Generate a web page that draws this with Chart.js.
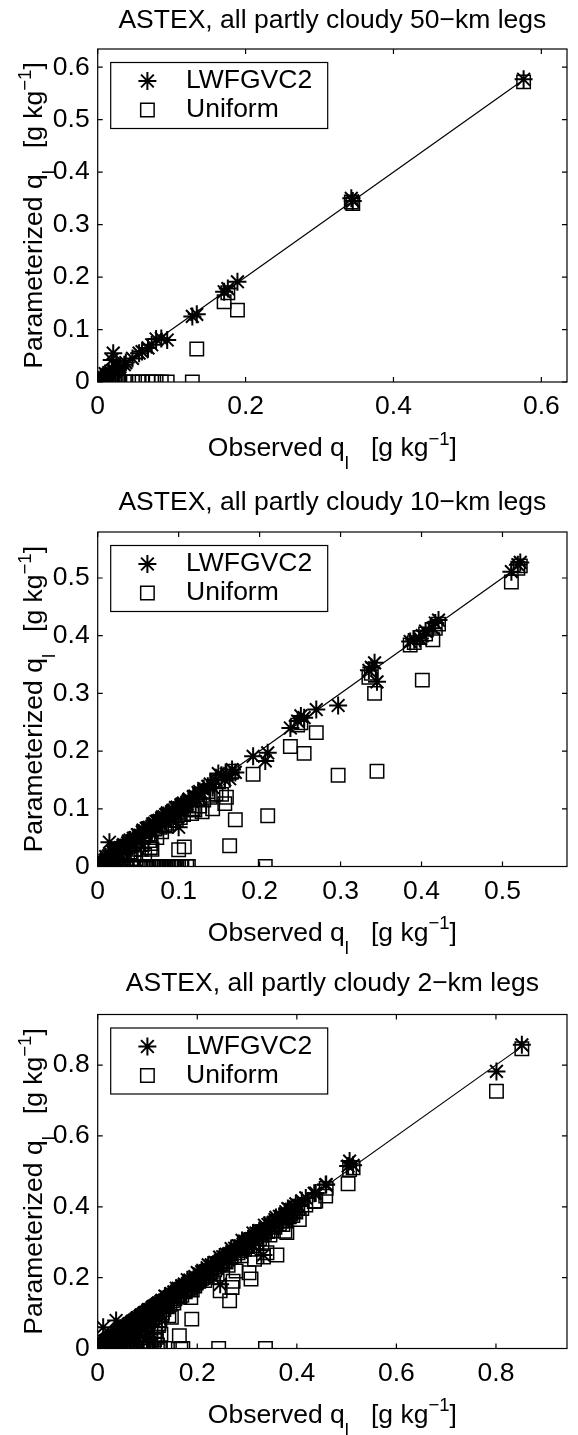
<!DOCTYPE html>
<html>
<head>
<meta charset="utf-8">
<title>ASTEX partly cloudy legs</title>
<script src="https://cdn.jsdelivr.net/npm/chart.js"></script>
<style>
    html, body { margin: 0; padding: 0; background: #fff; }
    canvas { display: block; }
</style>
</head>
<body>
<canvas id="chart50" width="578" height="480"></canvas>
<canvas id="chart10" width="578" height="480"></canvas>
<canvas id="chart2" width="578" height="475"></canvas>
<script>
    // series names and axis texts
    const seriesNames = ['LWFGVC2', 'Uniform'];
    const panelTitles = [
        'ASTEX, all partly cloudy 50\u2212km legs',
        'ASTEX, all partly cloudy 10\u2212km legs',
        'ASTEX, all partly cloudy 2\u2212km legs'
    ];
    // [text, 'sub' | 'sup' | '']
    const xTitleParts = [['Observed q', ''], ['l', 'sub'], ['   [g kg', ''], ['\u22121', 'sup'], [']', '']];
    const yTitleParts = [['Parameterized q', ''], ['l', 'sub'], ['   [g kg', ''], ['\u22121', 'sup'], [']', '']];

    // tick values
    const xTicks50 = [0, 0.2, 0.4, 0.6];
    const yTicks50 = [0, 0.1, 0.2, 0.3, 0.4, 0.5, 0.6];
    const ticks10 = [0, 0.1, 0.2, 0.3, 0.4, 0.5];
    const ticks2 = [0, 0.2, 0.4, 0.6, 0.8];

    // 50-km legs: observed ql, LWFGVC2 and uniform parameterized ql [g/kg]
    const obs50 = [0.576, 0.343, 0.345, 0.189, 0.176, 0.171, 0.134, 0.128, 0.094, 0.086,
        0.079, 0.073, 0.068, 0.060, 0.056, 0.047, 0.038, 0.036, 0.029, 0.021,
        0.019, 0.025, 0.027, 0.015, 0.012, 0.010, 0.008, 0.006, 0.005, 0.004,
        0.003, 0.002, 0.030, 0.023, 0.017, 0.013];
    const lwf50 = [0.577, 0.350, 0.345, 0.191, 0.178, 0.172, 0.129, 0.125, 0.080, 0.083,
        0.082, 0.071, 0.065, 0.058, 0.055, 0.045, 0.037, 0.033, 0.026, 0.055,
        0.042, 0.030, 0.024, 0.018, 0.012, 0.016, 0.009, 0.010, 0.004, 0.006,
        0.002, 0.003, 0.029, 0.020, 0.014, 0.011];
    const uni50 = [0.572, 0.343, 0.340, 0.137, 0.170, 0.153, 0.063, 0, 0, 0,
        0, 0, 0, 0, 0, 0, 0, 0, 0, 0,
        0, 0, 0.008, 0, 0.004, 0, 0, 0.002, 0, 0,
        0, 0, 0, 0.006, 0, 0];

    // 10-km legs
    const obs10 = [0.522, 0.519, 0.511, 0.421, 0.417, 0.414, 0.405, 0.401, 0.398, 0.391,
        0.386, 0.342, 0.338, 0.335, 0.345, 0.297, 0.270, 0.255, 0.251, 0.247,
        0.238, 0.210, 0.207, 0.192, 0.170, 0.166, 0.163, 0.159, 0.157, 0.153,
        0.149, 0.142, 0.136, 0.129, 0.124, 0.120, 0.116, 0.113, 0.110, 0.107,
        0.100, 0.091, 0.100,
        0.112, 0.108, 0.104, 0.101, 0.098, 0.095, 0.092, 0.089, 0.086, 0.083,
        0.080, 0.077, 0.074, 0.071, 0.068, 0.065, 0.062, 0.059, 0.056, 0.053,
        0.050, 0.047, 0.044, 0.041, 0.038, 0.035, 0.032, 0.029, 0.026, 0.023,
        0.020, 0.017, 0.0145, 0.012, 0.009, 0.006, 0.003, 0.001,
        0.005, 0.010, 0.015, 0.019, 0.024, 0.028, 0.033, 0.037, 0.043, 0.046,
        0.052, 0.055, 0.058, 0.061, 0.064, 0.067, 0.070, 0.073, 0.076, 0.079,
        0.082, 0.085, 0.088, 0.094, 0.097, 0.103, 0.106, 0.118, 0.126, 0.131,
        0.139, 0.146,
        0.004, 0.008, 0.013, 0.018, 0.022, 0.027, 0.031, 0.036, 0.040, 0.045,
        0.049, 0.054, 0.060, 0.066, 0.072, 0.078, 0.084, 0.090, 0.096, 0.102];
    const lwf10 = [0.527, 0.523, 0.511, 0.427, 0.422, 0.413, 0.408, 0.400, 0.395, 0.393,
        0.390, 0.353, 0.345, 0.340, 0.320, 0.279, 0.272, 0.258, 0.261, 0.252,
        0.240, 0.197, 0.183, 0.191, 0.163, 0.168, 0.152, 0.160, 0.150, 0.158,
        0.161, 0.137, 0.139, 0.127, 0.128, 0.122, 0.113, 0.117, 0.108, 0.105,
        0.096, 0.083, 0.068,
        0.115, 0.104, 0.108, 0.097, 0.103, 0.091, 0.096, 0.085, 0.093, 0.080,
        0.086, 0.074, 0.079, 0.069, 0.074, 0.063, 0.067, 0.057, 0.063, 0.051,
        0.055, 0.045, 0.049, 0.040, 0.044, 0.034, 0.038, 0.028, 0.031, 0.022,
        0.026, 0.016, 0.042, 0.013, 0.011, 0.007, 0.004, 0.001,
        0.009, 0.017, 0.020, 0.025, 0.028, 0.033, 0.036, 0.041, 0.045, 0.050,
        0.054, 0.060, 0.062, 0.066, 0.068, 0.062, 0.075, 0.078, 0.080, 0.084,
        0.086, 0.090, 0.092, 0.098, 0.100, 0.107, 0.110, 0.121, 0.130, 0.135,
        0.143, 0.150,
        0.011, 0.004, 0.018, 0.014, 0.028, 0.022, 0.036, 0.031, 0.046, 0.040,
        0.055, 0.049, 0.066, 0.060, 0.078, 0.073, 0.090, 0.085, 0.102, 0.097];
    const uni10 = [0.521, 0.517, 0.493, 0.420, 0.413, 0.393, 0.403, 0.323, 0.397, 0.388,
        0.384, 0.300, 0.335, 0.328, 0.165, 0.158, 0.232, 0.196, 0.249, 0.245,
        0.208, 0.088, 0.000, 0.160, 0.081, 0.165, 0.036, 0.120, 0.109, 0.125,
        0.147, 0.100, 0.130, 0.095, 0.118, 0.098, 0.092, 0.106, 0.000, 0.034,
        0.029, 0.000, 0.000,
        0.000, 0.105, 0.000, 0.094, 0.000, 0.088, 0.000, 0.080, 0.000, 0.072,
        0.000, 0.068, 0.000, 0.065, 0.000, 0.033, 0.055, 0.000, 0.050, 0.000,
        0.045, 0.014, 0.040, 0.000, 0.035, 0.000, 0.028, 0.012, 0.000, 0.018,
        0.000, 0.012, 0.006, 0.000, 0.005, 0.000, 0.002, 0.000,
        0.002, 0.006, 0.000, 0.010, 0.015, 0.000, 0.020, 0.025, 0.000, 0.030,
        0.000, 0.038, 0.020, 0.000, 0.045, 0.030, 0.000, 0.050, 0.000, 0.060,
        0.000, 0.070, 0.075, 0.000, 0.080, 0.000, 0.090, 0.100, 0.105, 0.115,
        0.120, 0.126,
        0.001, 0.005, 0.003, 0.012, 0.008, 0.020, 0.015, 0.000, 0.025, 0.020,
        0.000, 0.030, 0.000, 0.040, 0.000, 0.000, 0.000, 0.000, 0.000, 0.085];

    // 2-km legs
    const obs2 = [0.852, 0.801, 0.506, 0.513, 0.503, 0.459, 0.458, 0.438, 0.435, 0.405,
        0.402, 0.395, 0.388, 0.380, 0.376, 0.370, 0.360, 0.352, 0.340, 0.333,
        0.336, 0.328, 0.320, 0.315, 0.308, 0.304, 0.300, 0.292, 0.285, 0.278,
        0.272, 0.270, 0.265, 0.262, 0.255, 0.248, 0.246, 0.243, 0.238, 0.230,
        0.225, 0.218, 0.212, 0.205, 0.198, 0.192, 0.187, 0.189, 0.182, 0.176,
        0.171, 0.167, 0.164, 0.160, 0.155, 0.150, 0.148, 0.145, 0.143, 0.140,
        0.135, 0.133, 0.130, 0.337,
        0.135, 0.158, 0.180, 0.200, 0.222, 0.245, 0.268, 0.290, 0.312, 0.335,
        0.358, 0.382, 0.398,
        0.140, 0.165, 0.190, 0.215, 0.240, 0.262, 0.288, 0.310, 0.330, 0.350,
        0.372, 0.392,
        0.138, 0.147, 0.153, 0.162, 0.169, 0.174, 0.185, 0.195, 0.203, 0.209,
        0.220, 0.228, 0.235, 0.251, 0.258, 0.275, 0.282, 0.295, 0.302, 0.318,
        0.325, 0.342, 0.346, 0.356, 0.365, 0.378, 0.385, 0.410, 0.418,
        0.128, 0.124, 0.121, 0.118, 0.115, 0.113, 0.110, 0.107, 0.104, 0.101,
        0.098, 0.095, 0.092, 0.089, 0.086, 0.083, 0.080, 0.077, 0.074, 0.071,
        0.068, 0.065, 0.062, 0.059, 0.056, 0.053, 0.050, 0.047, 0.044, 0.041,
        0.038, 0.037, 0.035, 0.032, 0.029, 0.026, 0.023, 0.020, 0.017, 0.014,
        0.011, 0.008, 0.005, 0.003, 0.001,
        0.126, 0.119, 0.112, 0.105, 0.097, 0.090, 0.084, 0.078, 0.072, 0.066,
        0.060, 0.054, 0.048, 0.042, 0.036, 0.030, 0.024, 0.018, 0.012, 0.006,
        0.125, 0.122, 0.116, 0.111, 0.106, 0.102, 0.099, 0.094, 0.091, 0.087,
        0.082, 0.079, 0.075, 0.070, 0.067, 0.063, 0.058, 0.055, 0.051, 0.046,
        0.043, 0.039, 0.034, 0.031, 0.027, 0.022, 0.019, 0.015, 0.010, 0.004,
        0.129, 0.127, 0.123, 0.120, 0.117, 0.114, 0.109, 0.103, 0.100, 0.096,
        0.093, 0.088, 0.085, 0.081, 0.076, 0.073, 0.069, 0.064, 0.061, 0.057,
        0.052, 0.049, 0.045, 0.040, 0.033, 0.028, 0.025, 0.021, 0.016, 0.009];
    const lwf2 = [0.857, 0.782, 0.529, 0.517, 0.515, 0.463, 0.462, 0.439, 0.438, 0.402,
        0.404, 0.398, 0.392, 0.375, 0.378, 0.372, 0.362, 0.355, 0.330, 0.264,
        0.338, 0.330, 0.324, 0.318, 0.310, 0.306, 0.303, 0.295, 0.287, 0.280,
        0.274, 0.266, 0.268, 0.265, 0.258, 0.250, 0.181, 0.245, 0.240, 0.233,
        0.222, 0.220, 0.215, 0.208, 0.200, 0.195, 0.190, 0.186, 0.185, 0.178,
        0.173, 0.170, 0.166, 0.163, 0.158, 0.152, 0.150, 0.147, 0.146, 0.142,
        0.137, 0.135, 0.132, 0.336,
        0.148, 0.170, 0.194, 0.214, 0.236, 0.258, 0.282, 0.305, 0.326, 0.348,
        0.370, 0.395, 0.408,
        0.130, 0.155, 0.178, 0.203, 0.226, 0.250, 0.272, 0.296, 0.318, 0.340,
        0.362, 0.385,
        0.146, 0.155, 0.160, 0.170, 0.177, 0.182, 0.193, 0.203, 0.211, 0.217,
        0.228, 0.236, 0.243, 0.259, 0.266, 0.283, 0.290, 0.303, 0.310, 0.326,
        0.333, 0.350, 0.354, 0.364, 0.373, 0.386, 0.393, 0.417, 0.425,
        0.131, 0.120, 0.125, 0.116, 0.119, 0.110, 0.114, 0.104, 0.108, 0.099,
        0.102, 0.093, 0.097, 0.086, 0.091, 0.081, 0.085, 0.075, 0.079, 0.069,
        0.073, 0.063, 0.067, 0.057, 0.062, 0.051, 0.056, 0.046, 0.050, 0.040,
        0.045, 0.079, 0.036, 0.038, 0.028, 0.032, 0.022, 0.026, 0.016, 0.020,
        0.060, 0.010, 0.007, 0.004, 0.002,
        0.127, 0.123, 0.108, 0.110, 0.094, 0.095, 0.082, 0.083, 0.070, 0.071,
        0.058, 0.060, 0.047, 0.047, 0.035, 0.036, 0.023, 0.024, 0.013, 0.008,
        0.118, 0.128, 0.109, 0.118, 0.100, 0.110, 0.092, 0.101, 0.085, 0.094,
        0.076, 0.086, 0.069, 0.077, 0.061, 0.070, 0.052, 0.062, 0.045, 0.053,
        0.038, 0.046, 0.029, 0.039, 0.022, 0.029, 0.014, 0.022, 0.016, 0.010,
        0.136, 0.133, 0.129, 0.126, 0.123, 0.120, 0.115, 0.109, 0.106, 0.102,
        0.099, 0.094, 0.091, 0.087, 0.082, 0.079, 0.075, 0.070, 0.067, 0.063,
        0.058, 0.055, 0.051, 0.046, 0.039, 0.034, 0.031, 0.027, 0.022, 0.015];
    const uni2 = [0.846, 0.726, 0.505, 0.510, 0.465, 0.452, 0.430, 0.416, 0.415, 0.364,
        0.395, 0.388, 0.380, 0.327, 0.331, 0.360, 0.264, 0.345, 0.270, 0.258,
        0.330, 0.322, 0.310, 0.252, 0.196, 0.214, 0.290, 0.285, 0.276, 0.219,
        0.190, 0.172, 0.135, 0.255, 0.248, 0.240, 0.163, 0.000, 0.230, 0.222,
        0.210, 0.205, 0.200, 0.195, 0.185, 0.180, 0.144, 0.083, 0.170, 0.160,
        0.000, 0.000, 0.036, 0.150, 0.140, 0.135, 0.088, 0.125, 0.092, 0.118,
        0.000, 0.110, 0.100, 0.000,
        0.128, 0.150, 0.172, 0.190, 0.212, 0.236, 0.258, 0.282, 0.300, 0.325,
        0.350, 0.372, 0.385,
        0.122, 0.145, 0.165, 0.192, 0.210, 0.235, 0.262, 0.280, 0.300, 0.332,
        0.350, 0.375,
        0.120, 0.140, 0.128, 0.148, 0.150, 0.162, 0.170, 0.176, 0.190, 0.198,
        0.205, 0.215, 0.222, 0.238, 0.244, 0.262, 0.270, 0.280, 0.288, 0.300,
        0.310, 0.330, 0.320, 0.342, 0.352, 0.360, 0.372, 0.395, 0.405,
        0.118, 0.000, 0.105, 0.032, 0.060, 0.000, 0.095, 0.045, 0.088, 0.000,
        0.070, 0.085, 0.020, 0.078, 0.000, 0.055, 0.070, 0.010, 0.062, 0.000,
        0.058, 0.040, 0.052, 0.000, 0.045, 0.025, 0.042, 0.000, 0.035, 0.030,
        0.015, 0.000, 0.028, 0.022, 0.000, 0.018, 0.012, 0.000, 0.010, 0.006,
        0.000, 0.004, 0.000, 0.001, 0.000,
        0.000, 0.110, 0.000, 0.098, 0.000, 0.083, 0.030, 0.000, 0.066, 0.000,
        0.050, 0.000, 0.040, 0.000, 0.030, 0.004, 0.000, 0.014, 0.002, 0.000,
        0.080, 0.065, 0.050, 0.085, 0.020, 0.075, 0.040, 0.060, 0.015, 0.050,
        0.035, 0.020, 0.048, 0.030, 0.010, 0.045, 0.020, 0.035, 0.008, 0.025,
        0.018, 0.005, 0.020, 0.010, 0.012, 0.004, 0.008, 0.003, 0.005, 0.002,
        0.095, 0.040, 0.070, 0.010, 0.090, 0.025, 0.080, 0.015, 0.065, 0.030,
        0.055, 0.010, 0.068, 0.040, 0.025, 0.050, 0.035, 0.015, 0.030, 0.045,
        0.012, 0.030, 0.022, 0.015, 0.010, 0.020, 0.008, 0.012, 0.003, 0.006];

    const FONT = "'Liberation Sans', Arial, Helvetica, sans-serif";
    const TEXT_SIZE = 26.5;
    const AXIS_LEFT = 97.7;
    const TICK_LEN = 5;

    Chart.defaults.font.family = FONT;
    Chart.defaults.color = '#000';

    // draw text with sub/superscripts, centred on x, baseline at y
    function drawRichText(ctx, parts, x, y) {
        const small = TEXT_SIZE * 0.7;
        const widths = parts.map(([t, kind]) => {
            ctx.font = (kind ? small : TEXT_SIZE) + 'px ' + FONT;
            return ctx.measureText(t).width;
        });
        let cx = x - widths.reduce((s, w) => s + w, 0) / 2;
        parts.forEach(([t, kind], i) => {
            ctx.font = (kind ? small : TEXT_SIZE) + 'px ' + FONT;
            let dy = 0;
            if (kind === 'sub') dy = 13;
            if (kind === 'sup') dy = -11.5;
            ctx.fillText(t, cx, y + dy);
            cx += widths[i];
        });
    }

    // box, inward ticks on all sides, legend and axis titles
    const matlabAxes = {
        id: 'matlabAxes',
        afterDatasetsDraw(chart) {
            const ctx = chart.ctx;
            const a = chart.chartArea;
            const xs = chart.scales.x, ys = chart.scales.y;
            ctx.save();
            ctx.strokeStyle = '#000';
            ctx.lineWidth = 1.2;
            ctx.strokeRect(a.left, a.top, a.right - a.left, a.bottom - a.top);
            ctx.beginPath();
            xs.ticks.forEach(t => {
                const px = xs.getPixelForValue(t.value);
                ctx.moveTo(px, a.bottom); ctx.lineTo(px, a.bottom - TICK_LEN);
                ctx.moveTo(px, a.top); ctx.lineTo(px, a.top + TICK_LEN);
            });
            ys.ticks.forEach(t => {
                const py = ys.getPixelForValue(t.value);
                ctx.moveTo(a.left, py); ctx.lineTo(a.left + TICK_LEN, py);
                ctx.moveTo(a.right, py); ctx.lineTo(a.right - TICK_LEN, py);
            });
            ctx.stroke();

            // legend
            const bx = a.left + 13, by = a.top + 13.5;
            ctx.fillStyle = '#fff';
            ctx.fillRect(bx, by, 217, 66);
            ctx.strokeRect(bx, by, 217, 66);
            const rows = [a.top + 32, a.top + 61];
            chart.data.datasets.slice(0, 2).forEach((ds, i) => {
                ctx.strokeStyle = '#000';
                ctx.fillStyle = 'rgba(0,0,0,0)';
                ctx.lineWidth = ds.borderWidth;
                Chart.helpers.drawPoint(ctx, {
                    pointStyle: ds.pointStyle,
                    radius: ds.pointRadius,
                    borderWidth: ds.borderWidth,
                    rotation: 0
                }, a.left + 49.7, rows[i]);
                ctx.fillStyle = '#000';
                ctx.font = TEXT_SIZE + 'px ' + FONT;
                ctx.textBaseline = 'middle';
                ctx.textAlign = 'left';
                ctx.fillText(ds.label, a.left + 88.3, rows[i]);
            });
            ctx.restore();
        },
        afterDraw(chart) {
            const ctx = chart.ctx;
            const a = chart.chartArea;
            ctx.save();
            ctx.fillStyle = '#000';
            ctx.textAlign = 'left';
            ctx.textBaseline = 'alphabetic';
            drawRichText(ctx, xTitleParts, (a.left + a.right) / 2, a.bottom + 74);
            ctx.translate(42, (a.top + a.bottom) / 2);
            ctx.rotate(-Math.PI / 2);
            drawRichText(ctx, yTitleParts, 0, 0);
            ctx.restore();
        }
    };

    const panels = [
        { id: 'chart50', title: panelTitles[0], obs: obs50, lwf: lwf50, uni: uni50,
          xTicks: xTicks50, yTicks: yTicks50, height: 480, titleMid: 21, areaTop: 49, areaBottom: 382 },
        { id: 'chart10', title: panelTitles[1], obs: obs10, lwf: lwf10, uni: uni10,
          xTicks: ticks10, yTicks: ticks10, height: 480, titleMid: 23, areaTop: 52, areaBottom: 386.5 },
        { id: 'chart2', title: panelTitles[2], obs: obs2, lwf: lwf2, uni: uni2,
          xTicks: ticks2, yTicks: ticks2, height: 475, titleMid: 24, areaTop: 54.5, areaBottom: 388.5 }
    ];

    function tickLabel(v) {
        return v === 0 ? '0' : String(+v.toFixed(1));
    }

    function makeChart(p) {
        const maxObs = Math.max(...p.obs);
        const axisMax = 1.1 * Math.max(...p.obs, ...p.lwf, ...p.uni);
        const tickFont = { family: FONT, size: TEXT_SIZE };
        return new Chart(document.getElementById(p.id), {
            type: 'scatter',
            data: {
                datasets: [
                    {
                        label: seriesNames[0],
                        data: p.obs.map((x, i) => ({ x: x, y: p.lwf[i] })),
                        pointStyle: 'star',
                        pointRadius: 9,
                        borderColor: '#000',
                        backgroundColor: 'rgba(0,0,0,0)',
                        borderWidth: 2,
                        order: 2
                    },
                    {
                        label: seriesNames[1],
                        data: p.obs.map((x, i) => ({ x: x, y: p.uni[i] })),
                        pointStyle: 'rect',
                        pointRadius: 9.5,
                        borderColor: '#000',
                        backgroundColor: 'rgba(0,0,0,0)',
                        borderWidth: 1.5,
                        order: 1
                    },
                    {
                        type: 'line',
                        label: '1:1',
                        data: [{ x: 0, y: 0 }, { x: maxObs, y: maxObs }],
                        borderColor: '#000',
                        borderWidth: 1.2,
                        pointRadius: 0,
                        showLine: true,
                        order: 3
                    }
                ]
            },
            options: {
                responsive: false,
                animation: false,
                events: [],
                layout: { padding: { left: 0, right: 1.3, top: 0, bottom: 0 } },
                plugins: {
                    legend: { display: false },
                    tooltip: { enabled: false },
                    title: {
                        display: true,
                        fullSize: false,
                        text: p.title,
                        color: '#000',
                        font: { family: FONT, size: TEXT_SIZE, weight: 'normal', lineHeight: 1.2 },
                        padding: {
                            top: p.titleMid - TEXT_SIZE * 0.6,
                            bottom: p.areaTop - p.titleMid - TEXT_SIZE * 0.6
                        }
                    }
                },
                scales: {
                    x: {
                        type: 'linear',
                        min: 0,
                        max: axisMax,
                        grid: { display: false, drawTicks: false },
                        border: { display: false },
                        ticks: { font: tickFont, color: '#000', padding: 9, autoSkip: false, maxRotation: 0, callback: tickLabel },
                        afterBuildTicks: s => { s.ticks = p.xTicks.map(v => ({ value: v })); },
                        afterFit: s => { s.height = p.height - p.areaBottom; }
                    },
                    y: {
                        type: 'linear',
                        min: 0,
                        max: axisMax,
                        grid: { display: false, drawTicks: false },
                        border: { display: false },
                        ticks: { font: tickFont, color: '#000', padding: 8, autoSkip: false, callback: tickLabel },
                        afterBuildTicks: s => { s.ticks = p.yTicks.map(v => ({ value: v })); },
                        afterFit: s => { s.width = AXIS_LEFT; }
                    }
                }
            },
            plugins: [matlabAxes]
        });
    }

    panels.forEach(makeChart);
</script>
</body>
</html>
